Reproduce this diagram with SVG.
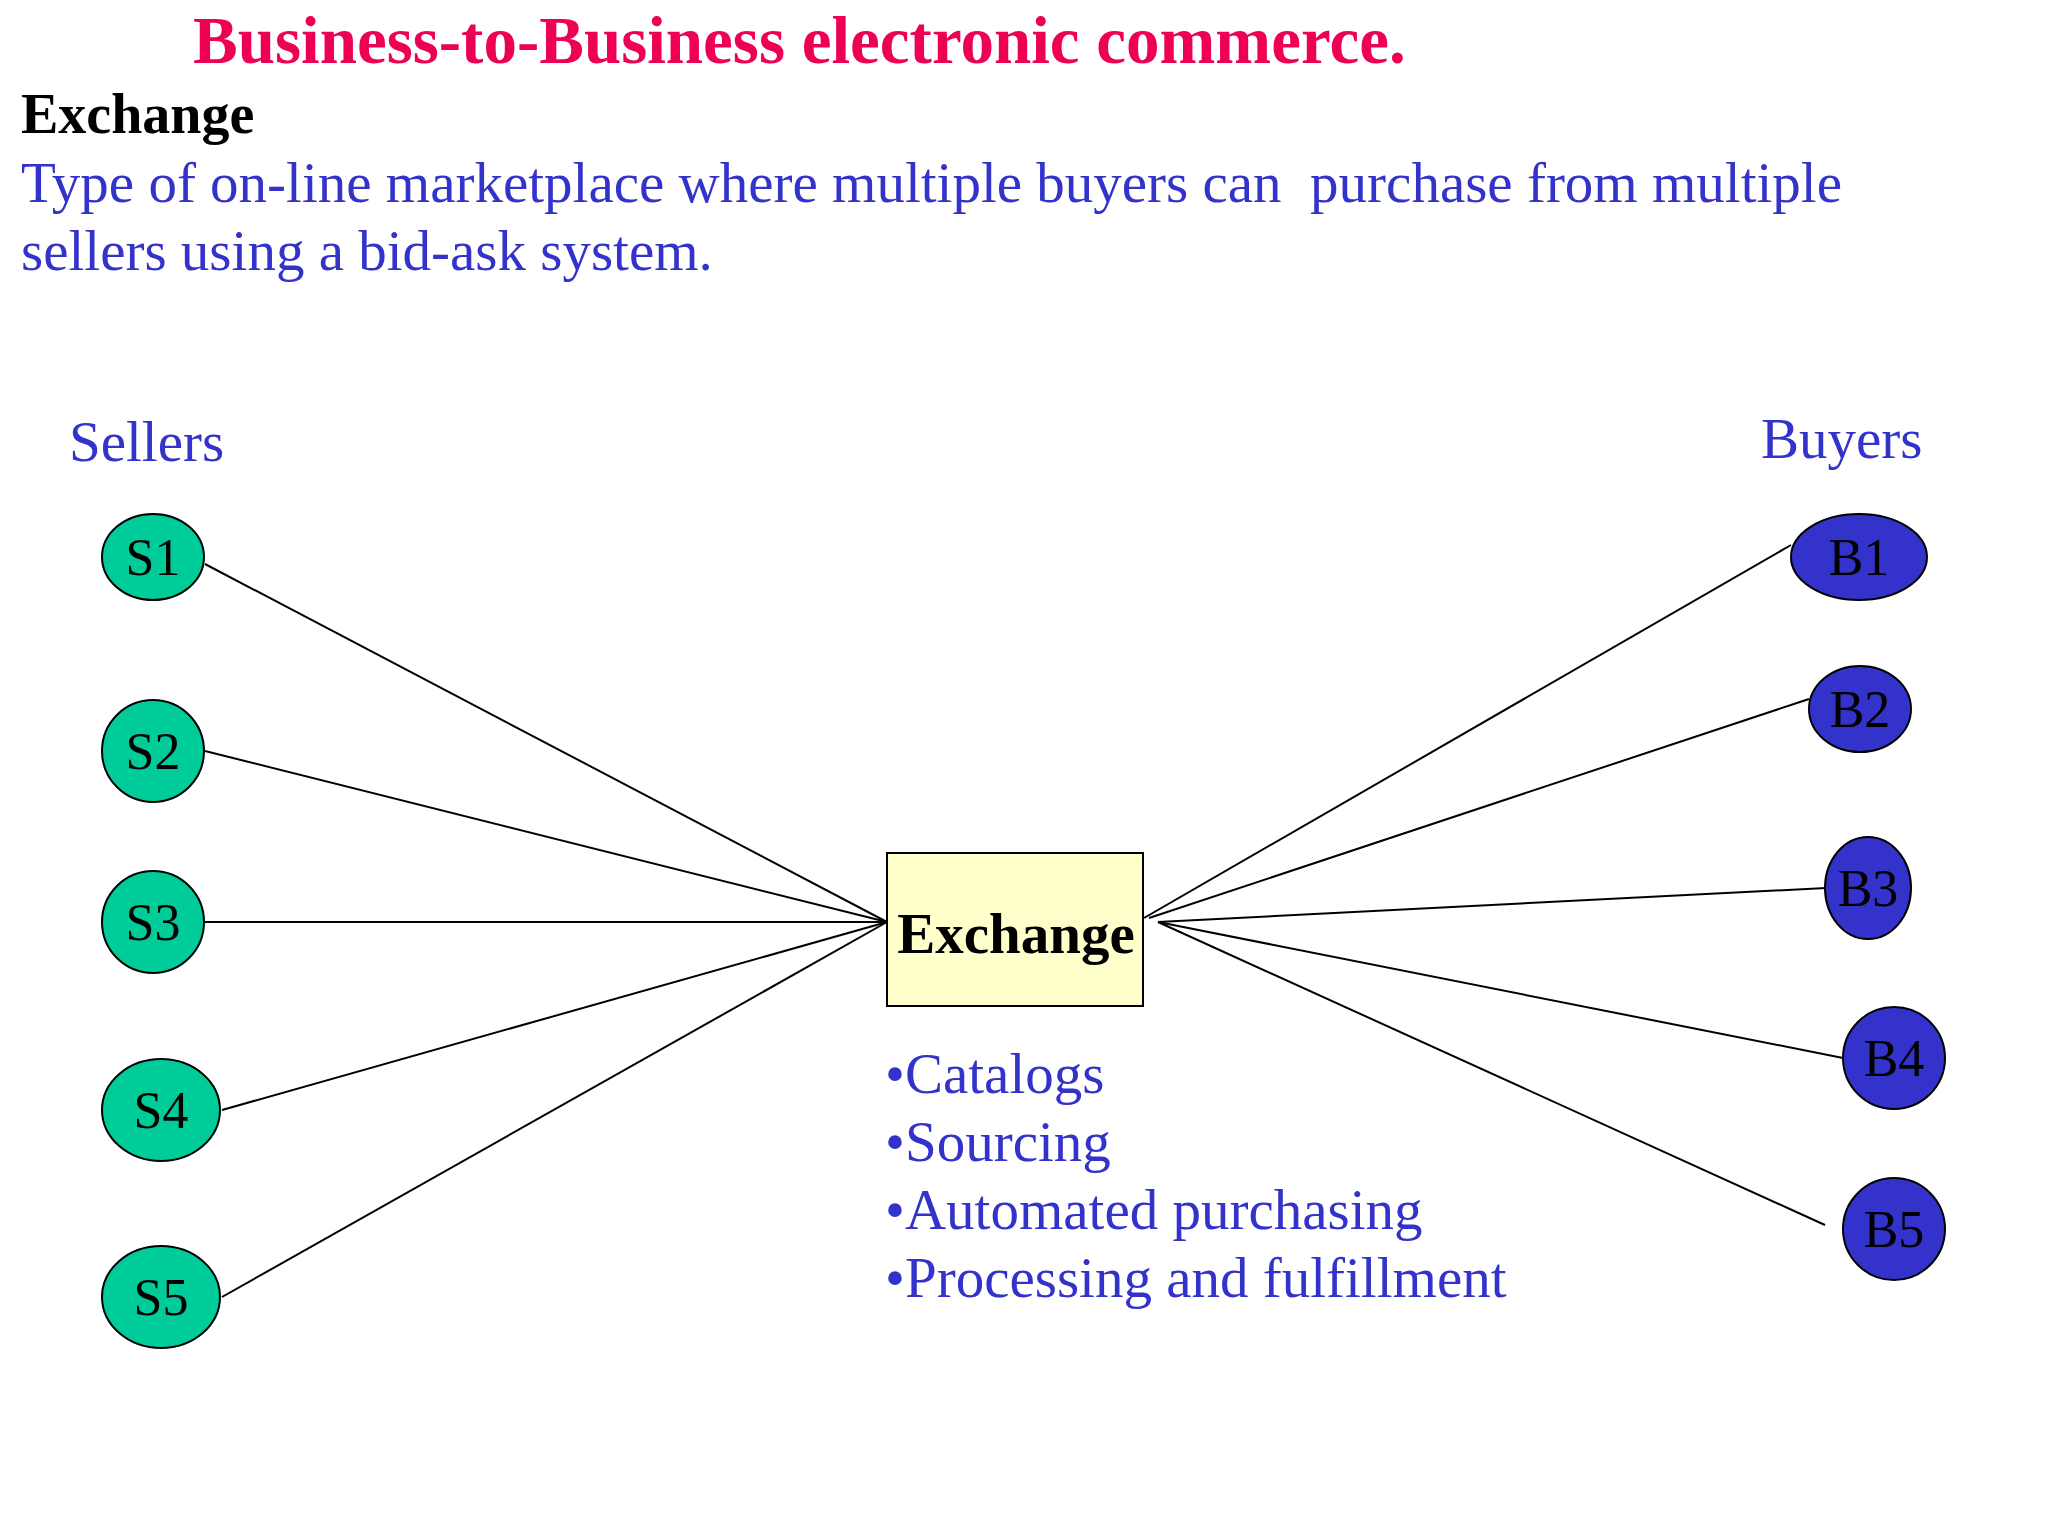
<svg xmlns="http://www.w3.org/2000/svg" width="2048" height="1536" viewBox="0 0 2048 1536">
<style>
text{font-family:"Liberation Serif","Times New Roman",serif}
.b{fill:#3333cc;font-size:57px;white-space:pre}
.s{fill:#00cc99;stroke:#000;stroke-width:2}
.u{fill:#3333cc;stroke:#000;stroke-width:2}
.l{font-size:52px;fill:#000;text-anchor:middle}
#connectors line{stroke:#000;stroke-width:2}
</style>
<rect width="2048" height="1536" fill="#fff"/>
<text x="193" y="63" font-size="67" font-weight="bold" fill="#ee0055">Business-to-Business electronic commerce.</text>
<text x="21" y="133" font-size="56" font-weight="bold" fill="#000">Exchange</text>
<text class="b" x="21" y="202" xml:space="preserve">Type of on-line marketplace where multiple buyers can  purchase from multiple</text>
<text class="b" x="21" y="270">sellers using a bid-ask system.</text>
<text class="b" x="69" y="461">Sellers</text>
<text class="b" x="1761" y="458">Buyers</text>
<g id="connectors">
<line x1="205" y1="564" x2="887" y2="922"/>
<line x1="205" y1="751" x2="887" y2="922"/>
<line x1="205" y1="922" x2="887" y2="922"/>
<line x1="222" y1="1110" x2="887" y2="922"/>
<line x1="222" y1="1297" x2="887" y2="922"/>
<line x1="1144" y1="918" x2="1791" y2="545"/>
<line x1="1149" y1="918" x2="1809" y2="699"/>
<line x1="1158" y1="922" x2="1826" y2="888"/>
<line x1="1158" y1="922" x2="1843" y2="1058"/>
<line x1="1158" y1="922" x2="1825" y2="1225"/>
</g>
<g id="S1"><ellipse class="s" cx="153" cy="557" rx="51" ry="43"/><text class="l" x="153" y="575">S1</text></g>
<g id="S2"><ellipse class="s" cx="153" cy="751" rx="51" ry="51"/><text class="l" x="153" y="769">S2</text></g>
<g id="S3"><ellipse class="s" cx="153" cy="922" rx="51" ry="51"/><text class="l" x="153" y="940">S3</text></g>
<g id="S4"><ellipse class="s" cx="161" cy="1110" rx="59" ry="51"/><text class="l" x="161" y="1128">S4</text></g>
<g id="S5"><ellipse class="s" cx="161" cy="1297" rx="59" ry="51"/><text class="l" x="161" y="1315">S5</text></g>
<g id="B1"><ellipse class="u" cx="1859" cy="557" rx="68" ry="43"/><text class="l" x="1859" y="575">B1</text></g>
<g id="B2"><ellipse class="u" cx="1860" cy="709" rx="51" ry="43"/><text class="l" x="1860" y="727">B2</text></g>
<g id="B3"><ellipse class="u" cx="1868" cy="888" rx="43" ry="51"/><text class="l" x="1868" y="906">B3</text></g>
<g id="B4"><ellipse class="u" cx="1894" cy="1058" rx="51" ry="51"/><text class="l" x="1894" y="1076">B4</text></g>
<g id="B5"><ellipse class="u" cx="1894" cy="1229" rx="51" ry="51"/><text class="l" x="1894" y="1247">B5</text></g>
<g id="Exchange"><rect x="887" y="853" width="256" height="153" fill="#ffffcc" stroke="#000" stroke-width="2"/><text x="1016" y="953" font-size="57" font-weight="bold" text-anchor="middle" fill="#000">Exchange</text></g>
<g id="features">
<text class="b" x="885" y="1093">•Catalogs</text>
<text class="b" x="885" y="1161">•Sourcing</text>
<text class="b" x="885" y="1229">•Automated purchasing</text>
<text class="b" x="885" y="1297">•Processing and fulfillment</text>
</g>
</svg>
